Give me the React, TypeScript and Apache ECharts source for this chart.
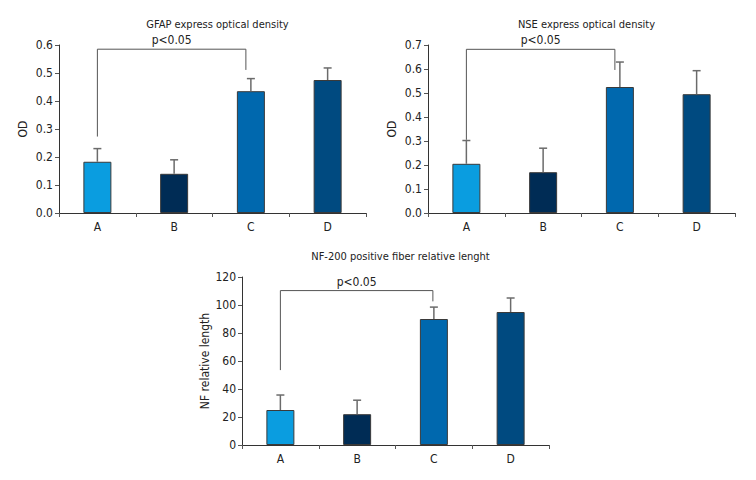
import React, { useEffect, useRef } from "react";
import * as echarts from "echarts";

const categories = ["A", "B", "C", "D"];
const titles = [
  "GFAP express optical density",
  "NSE express optical density",
  "NF-200 positive fiber relative lenght",
];
const yNames = ["OD", "OD", "NF relative length"];
const gfapMeans = [0.183, 0.14, 0.435, 0.475];
const gfapErrors = [0.047, 0.05, 0.045, 0.043];
const nseMeans = [0.205, 0.17, 0.525, 0.495];
const nseErrors = [0.097, 0.1, 0.104, 0.098];
const nfMeans = [25, 22, 90, 95];
const nfErrors = [10.7, 10, 8.5, 10];
const yMax = [0.6, 0.7, 120];
const yStep = [0.1, 0.1, 20];
// bracket: [leftCat, leftBottom, top, rightCat, rightBottom]
const gfapBracket = [0, 0.273, 0.585, 2, 0.511];
const nseBracket = [0, 0.305, 0.682, 2, 0.596];
const nfBracket = [0, 53.5, 110.3, 2, 102.6];
const sigLabel = "p<0.05";

const barColors = ["#0a9de0", "#002c55", "#0068ae", "#004a80"];
const FONT = "'Liberation Sans Narrow', 'DejaVu Sans Condensed', 'Roboto Condensed', sans-serif";

const grids = [
  { left: 59, top: 45, width: 307, height: 168 },
  { left: 428, top: 45, width: 307, height: 168 },
  { left: 242, top: 277, width: 307, height: 168 },
];
const bracketShift = [-5, -5, -1];

export default function App() {
  const ref = useRef<HTMLDivElement>(null);
  useEffect(() => {
    if (!ref.current) return;
    const chart = echarts.init(ref.current, undefined, { renderer: "svg" });
    const means = [gfapMeans, nseMeans, nfMeans];
    const errs = [gfapErrors, nseErrors, nfErrors];
    const brackets = [gfapBracket, nseBracket, nfBracket];

    const series: any[] = [];
    for (let i = 0; i < 3; i++) {
      series.push({
        type: "bar",
        xAxisIndex: i,
        yAxisIndex: i,
        barWidth: 28,
        data: means[i].map((v, j) => ({
          value: v,
          itemStyle: { color: barColors[j] },
        })),
        itemStyle: { borderColor: "#3a3a3a", borderWidth: 1 },
        z: 2,
      });
      series.push({
        type: "custom",
        xAxisIndex: i,
        yAxisIndex: i,
        z: 3,
        data: means[i].map((v, j) => [j, v, errs[i][j]]),
        renderItem: (params: any, api: any) => {
          const x = api.value(0);
          const v = api.value(1);
          const e = api.value(2);
          const p0 = api.coord([x, v]);
          const p1 = api.coord([x, v + e]);
          return {
            type: "group",
            children: [
              {
                type: "line",
                shape: { x1: p0[0], y1: p0[1], x2: p1[0], y2: p1[1] },
                style: { stroke: "#6b6b6b", lineWidth: 1.5 },
              },
              {
                type: "line",
                shape: { x1: p1[0] - 4, y1: p1[1], x2: p1[0] + 4, y2: p1[1] },
                style: { stroke: "#6b6b6b", lineWidth: 1.5 },
              },
            ],
          };
        },
      });
      const shift = bracketShift[i];
      series.push({
        type: "custom",
        xAxisIndex: i,
        yAxisIndex: i,
        z: 4,
        data: [brackets[i]],
        renderItem: (params: any, api: any) => {
          const a = api.coord([api.value(0), api.value(1)]);
          const t = api.coord([api.value(0), api.value(2)]);
          const c = api.coord([api.value(3), api.value(4)]);
          const cx = c[0] + shift;
          return {
            type: "group",
            children: [
              {
                type: "polyline",
                shape: {
                  points: [
                    [a[0], a[1]],
                    [a[0], t[1]],
                    [cx, t[1]],
                    [cx, c[1]],
                  ],
                },
                style: { stroke: "#555555", lineWidth: 1, fill: "none" },
              },
              {
                type: "text",
                x: (a[0] + cx) / 2,
                y: t[1] - 3,
                style: {
                  text: sigLabel,
                  fill: "#222",
                  font: `12px ${FONT}`,
                  textAlign: "center",
                  textVerticalAlign: "bottom",
                },
              },
            ],
          };
        },
      });
    }

    chart.setOption({
      animation: false,
      backgroundColor: "#ffffff",
      textStyle: { fontFamily: FONT },
      title: titles.map((t, i) => ({
        text: t,
        left: grids[i].left + grids[i].width / 2,
        top: i === 2 ? 246 : 14,
        textAlign: "center",
        textStyle: { fontSize: 11, fontWeight: "normal", color: "#222", fontFamily: FONT },
      })),
      grid: grids,
      xAxis: grids.map((g, i) => ({
        type: "category",
        gridIndex: i,
        data: categories,
        boundaryGap: true,
        axisLine: { lineStyle: { color: "#333", width: 1 } },
        axisTick: { show: true, length: 4, lineStyle: { color: "#555" } },
        axisLabel: { fontSize: 12, color: "#222", margin: 8, fontFamily: FONT },
      })),
      yAxis: grids.map((g, i) => ({
        type: "value",
        gridIndex: i,
        min: 0,
        max: yMax[i],
        interval: yStep[i],
        name: yNames[i],
        nameLocation: "middle",
        nameGap: 30,
        nameTextStyle: { fontSize: 12, color: "#222", fontFamily: FONT },
        axisLine: { show: true, lineStyle: { color: "#333", width: 1 } },
        axisTick: { show: true, length: 4, lineStyle: { color: "#555" } },
        axisLabel: {
          fontSize: 12,
          color: "#222",
          margin: 6,
          fontFamily: FONT,
          formatter: (v: number) => (yStep[i] < 1 ? v.toFixed(1) : String(v)),
        },
        splitLine: { show: false },
      })),
      series,
    });
    return () => chart.dispose();
  }, []);
  return (
    <div
      ref={ref}
      style={{ position: "fixed", left: 0, top: 0, width: 756, height: 480 }}
    />
  );
}
